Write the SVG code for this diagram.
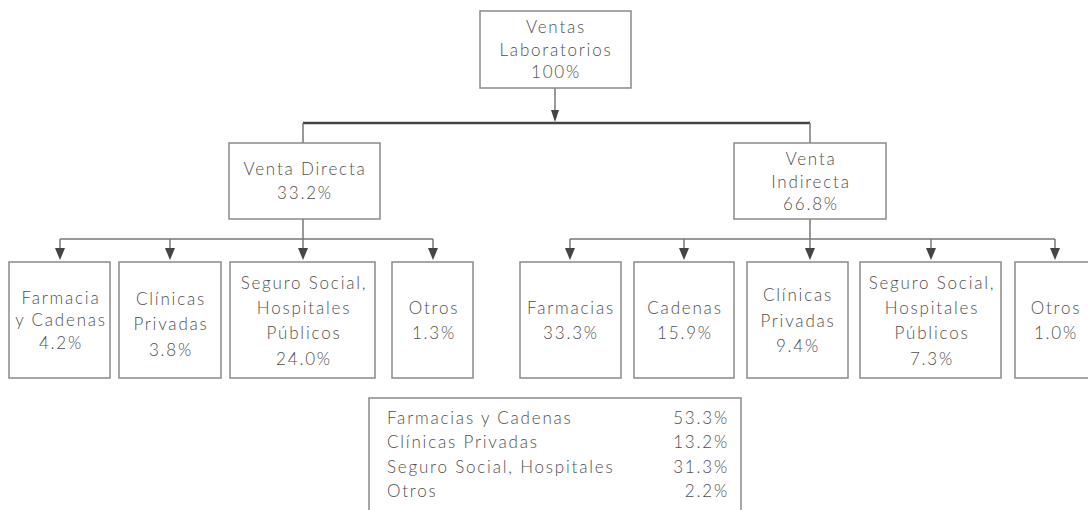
<svg xmlns="http://www.w3.org/2000/svg" width="1088" height="510" viewBox="0 0 1088 510">
<style>
.box{fill:#fff;stroke:#8a8a8a;stroke-width:1.5}
.t,.tl,.tr{font-family:"Lato","Liberation Sans",sans-serif;font-weight:300;font-size:17px;letter-spacing:1.8px;fill:#505050;dominant-baseline:central}
.t{text-anchor:middle}
.tr{text-anchor:end}
.c{fill:none;stroke:#777;stroke-width:1.5}
</style>
<g id="connectors">
<line x1="555" y1="88" x2="555" y2="111" class="c"/>
<path d="M551,110 L559,110 L555,122 Z" fill="#444"/>
<line x1="303" y1="123" x2="810" y2="123" stroke="#444" stroke-width="2.5"/>
<line x1="303" y1="123" x2="303" y2="143" class="c" stroke="#999"/>
<line x1="810" y1="123" x2="810" y2="143" class="c" stroke="#999"/>
<line x1="303" y1="219" x2="303" y2="239" class="c"/>
<line x1="60" y1="239" x2="433" y2="239" class="c"/>
<line x1="810" y1="219" x2="810" y2="239" class="c"/>
<line x1="570" y1="239" x2="1055" y2="239" class="c"/>
<g fill="#444">
<line x1="60" y1="239" x2="60" y2="250" class="c"/><path d="M55,248 L65,248 L60,260 Z"/>
<line x1="170" y1="239" x2="170" y2="250" class="c"/><path d="M165,248 L175,248 L170,260 Z"/>
<line x1="303" y1="239" x2="303" y2="250" class="c"/><path d="M298,248 L308,248 L303,260 Z"/>
<line x1="433" y1="239" x2="433" y2="250" class="c"/><path d="M428,248 L438,248 L433,260 Z"/>
<line x1="570" y1="239" x2="570" y2="250" class="c"/><path d="M565,248 L575,248 L570,260 Z"/>
<line x1="684" y1="239" x2="684" y2="250" class="c"/><path d="M679,248 L689,248 L684,260 Z"/>
<line x1="810" y1="239" x2="810" y2="250" class="c"/><path d="M805,248 L815,248 L810,260 Z"/>
<line x1="931" y1="239" x2="931" y2="250" class="c"/><path d="M926,248 L936,248 L931,260 Z"/>
<line x1="1055" y1="239" x2="1055" y2="250" class="c"/><path d="M1050,248 L1060,248 L1055,260 Z"/>
</g>
</g>
<g id="root"><rect class="box" x="480" y="11" width="151" height="77"/>
<text class="t" x="556" y="26">Ventas</text><text class="t" x="556" y="49">Laboratorios</text><text class="t" x="556" y="71">100%</text></g>
<g id="directa"><rect class="box" x="229" y="143" width="151" height="76"/>
<text class="t" x="305" y="168">Venta Directa</text><text class="t" x="305" y="192">33.2%</text></g>
<g id="indirecta"><rect class="box" x="734" y="143" width="152" height="76"/>
<text class="t" x="811" y="158">Venta</text><text class="t" x="811" y="181">Indirecta</text><text class="t" x="811" y="203">66.8%</text></g>
<g id="d1"><rect class="box" x="9" y="262" width="101" height="116"/>
<text class="t" x="61" y="297">Farmacia</text><text class="t" x="61" y="319">y Cadenas</text><text class="t" x="61" y="342">4.2%</text></g>
<g id="d2"><rect class="box" x="119" y="262" width="102" height="116"/>
<text class="t" x="171" y="298">Clínicas</text><text class="t" x="171" y="323">Privadas</text><text class="t" x="171" y="349">3.8%</text></g>
<g id="d3"><rect class="box" x="230" y="262" width="145" height="116"/>
<text class="t" x="304" y="282">Seguro Social,</text><text class="t" x="304" y="307">Hospitales</text><text class="t" x="304" y="332">Públicos</text><text class="t" x="304" y="358">24.0%</text></g>
<g id="d4"><rect class="box" x="392" y="262" width="81" height="116"/>
<text class="t" x="434" y="307">Otros</text><text class="t" x="434" y="332">1.3%</text></g>
<g id="i1"><rect class="box" x="520" y="262" width="101" height="116"/>
<text class="t" x="571" y="307">Farmacias</text><text class="t" x="571" y="332">33.3%</text></g>
<g id="i2"><rect class="box" x="634" y="262" width="100" height="116"/>
<text class="t" x="685" y="307">Cadenas</text><text class="t" x="685" y="332">15.9%</text></g>
<g id="i3"><rect class="box" x="747" y="262" width="101" height="116"/>
<text class="t" x="798" y="294">Clínicas</text><text class="t" x="798" y="320">Privadas</text><text class="t" x="798" y="345">9.4%</text></g>
<g id="i4"><rect class="box" x="860" y="262" width="141" height="116"/>
<text class="t" x="932" y="282">Seguro Social,</text><text class="t" x="932" y="307">Hospitales</text><text class="t" x="932" y="332">Públicos</text><text class="t" x="932" y="358">7.3%</text></g>
<g id="i5"><rect class="box" x="1015" y="262" width="85" height="116"/>
<text class="t" x="1056" y="307">Otros</text><text class="t" x="1056" y="332">1.0%</text></g>
<g id="summary"><rect class="box" x="369" y="398" width="372" height="130"/>
<text class="tl" x="387" y="417">Farmacias y Cadenas</text><text class="tr" x="729" y="417">53.3%</text>
<text class="tl" x="387" y="441">Clínicas Privadas</text><text class="tr" x="729" y="441">13.2%</text>
<text class="tl" x="387" y="466">Seguro Social, Hospitales</text><text class="tr" x="729" y="466">31.3%</text>
<text class="tl" x="387" y="490">Otros</text><text class="tr" x="729" y="490">2.2%</text></g>
</svg>
